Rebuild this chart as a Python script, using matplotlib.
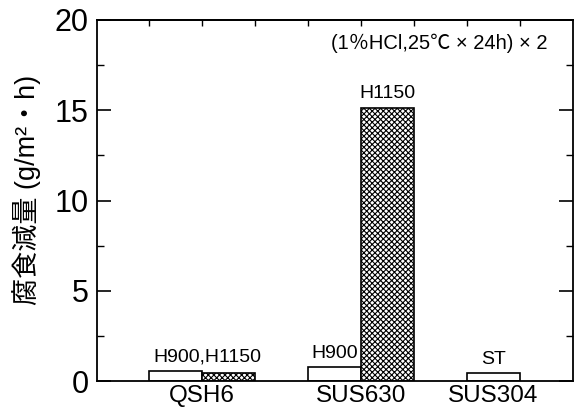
import matplotlib
matplotlib.use("Agg")
import matplotlib.pyplot as plt
from matplotlib.ticker import MultipleLocator

plt.rcParams['font.family'] = ['Liberation Sans', 'Noto Sans CJK JP', 'DejaVu Sans']
plt.rcParams['hatch.linewidth'] = 0.8

# Corrosion loss per material / heat treatment
materials = ['QSH6', 'SUS630', 'SUS304']
material_pos = [1.0, 4.0, 6.5]

bar_left = [0, 1, 3, 4, 6]
bar_values = [0.55, 0.45, 0.78, 15.14, 0.45]
bar_hatched = [False, True, False, True, False]

bar_labels = ['H900,H1150', 'H900', 'H1150', 'ST']
bar_label_x = [1.1, 3.5, 4.5, 6.5]
bar_label_y = [0.55, 0.78, 15.14, 0.45]

condition = '(1％HCl,25℃ × 24h) × 2'

fig = plt.figure(figsize=(5.76, 4.08), dpi=100)
ax = fig.add_axes([0.168, 0.066, 0.827, 0.885])

for x, v, h in zip(bar_left, bar_values, bar_hatched):
    ax.bar(x, v, width=1.0, align='edge', facecolor='white', edgecolor='black',
           linewidth=1.2, hatch='xxxxxx' if h else None, zorder=2)

for t, x, y in zip(bar_labels, bar_label_x, bar_label_y):
    ax.text(x, y + 0.3, t, ha='center', va='bottom', fontsize=14)

ax.text(0.946, 0.935, condition, transform=ax.transAxes, ha='right', va='center',
        fontsize=14.5)

ax.set_xlim(-0.985, 8.01)
ax.set_ylim(0, 20)

ax.yaxis.set_major_locator(MultipleLocator(5))
ax.yaxis.set_minor_locator(MultipleLocator(2.5))
ax.tick_params(axis='y', which='major', direction='in', length=10, width=1.2,
               labelsize=22, pad=6, right=True)
ax.tick_params(axis='y', which='minor', direction='in', length=5, width=1.0, right=True)

ax.set_xticks(material_pos)
ax.set_xticklabels(materials, fontsize=17.5)
ax.tick_params(axis='x', which='major', length=0, pad=2.5)

top = ax.secondary_xaxis('top')
top.set_xticks(range(8))
top.tick_params(direction='in', length=4, width=1.0, labeltop=False)

for s in ax.spines.values():
    s.set_linewidth(1.3)
top.spines['top'].set_linewidth(1.3)

ax.set_ylabel('腐食減量 (g/m²・h)', fontsize=19.5)
ax.yaxis.set_label_coords(-0.118, 0.53)

fig.savefig('out.png', dpi=100)
